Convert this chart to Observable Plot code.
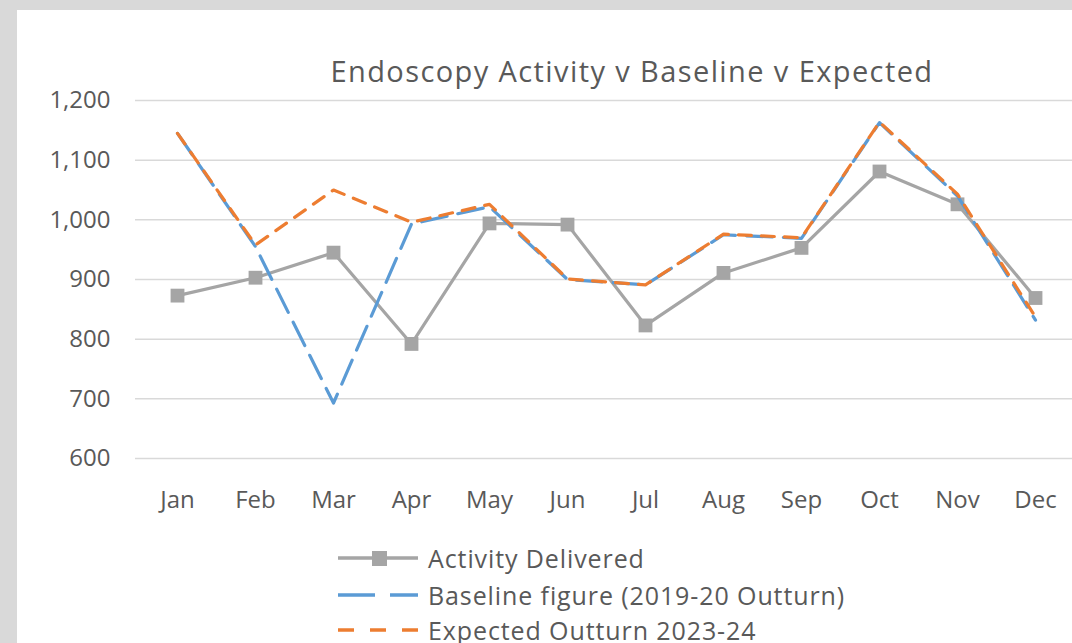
<!DOCTYPE html>
<html>
<head>
<meta charset="utf-8">
<script src="https://cdn.jsdelivr.net/npm/d3@7"></script>
<script src="https://cdn.jsdelivr.net/npm/@observablehq/plot@0.6"></script>
<style>
  html, body { margin: 0; padding: 0; }
  body { width: 1072px; height: 643px; overflow: hidden; background: #d9d9d9; position: relative; font-family: "Open Sans", sans-serif; color: #595959; }
  #panel { position: absolute; left: 17px; top: 10px; width: 1100px; height: 700px; background: #ffffff; }
  #title { position: absolute; left: 282px; width: 700px; top: 56px; text-align: center; font-size: 29px; line-height: 29px; white-space: nowrap; letter-spacing: 1.4px; }
  #chart { position: absolute; left: 0; top: 90px; width: 1100px; }
  #chart svg { max-width: none !important; }
  .row { position: absolute; left: 338px; height: 36px; line-height: 36px; display: flex; align-items: center; font-size: 25px; white-space: nowrap; letter-spacing: 0.9px; }
  .row svg { margin-right: 10px; }
</style>
</head>
<body>
<div id="panel"></div>
<div id="title">Endoscopy Activity v Baseline v Expected</div>
<div id="chart"></div>
<div id="legend"></div>
<script>
const months = ["Jan","Feb","Mar","Apr","May","Jun","Jul","Aug","Sep","Oct","Nov","Dec"];
const activityDelivered = [873, 903, 945, 792, 994, 992, 823, 911, 953, 1081, 1026, 869];
const baselineFigure   = [1145, 955, 693, 993, 1022, 900, 891, 975, 969, 1163, 1040, 832];
const expectedOutturn  = [1145, 958, 1050, 996, 1026, 901, 891, 976, 970, 1164, 1043, 837];
const yTicks = [600, 700, 800, 900, 1000, 1100, 1200];
const seriesNames = ["Activity Delivered", "Baseline figure (2019-20 Outturn)", "Expected Outturn 2023-24"];

const act = months.map((m, i) => ({month: m, value: activityDelivered[i]}));
const base = months.map((m, i) => ({month: m, value: baselineFigure[i]}));
const exp = months.map((m, i) => ({month: m, value: expectedOutturn[i]}));

const gray = "#a5a5a5", blue = "#5b9bd5", orange = "#ed7d31";

const chart = Plot.plot({
  width: 1100,
  height: 450,
  marginLeft: 135,
  marginRight: 23,
  marginTop: 10,
  marginBottom: 82,
  style: {fontFamily: "'Open Sans', sans-serif", fontSize: "24px", color: "#595959", background: "transparent", overflow: "visible", maxWidth: "none"},
  x: {type: "point", domain: months, padding: 0.5, label: null},
  y: {domain: [600, 1200], label: null},
  marks: [
    Plot.gridY(yTicks, {stroke: "#d9d9d9", strokeOpacity: 1, strokeWidth: 1.5}),
    Plot.axisY(yTicks, {tickSize: 0, tickPadding: 25, tickFormat: d3.format(","), fill: "#595959", label: null, letterSpacing: "1.8px"}),
    Plot.axisX({tickSize: 0, tickPadding: 32, fill: "#595959", label: null, letterSpacing: "2.5px"}),
    Plot.line(act, {x: "month", y: "value", stroke: gray, strokeWidth: 3.2}),
    Plot.dot(act, {x: "month", y: "value", symbol: "square", r: 7.8, fill: gray}),
    Plot.line(base, {x: "month", y: "value", stroke: blue, strokeWidth: 3.2, strokeDasharray: "26 11"}),
    Plot.line(exp, {x: "month", y: "value", stroke: orange, strokeWidth: 3.2, strokeDasharray: "13 10"})
  ]
});
document.getElementById("chart").appendChild(chart);

// Legend
const legend = document.getElementById("legend");
const tops = [540, 577, 612];
const swatches = [
  `<svg width="80" height="20"><line x1="0" y1="10" x2="80" y2="10" stroke="${gray}" stroke-width="3.5"/><rect x="34" y="3" width="15" height="15" fill="${gray}"/></svg>`,
  `<svg width="80" height="20"><line x1="0" y1="10" x2="80" y2="10" stroke="${blue}" stroke-width="3.5" stroke-dasharray="37 15"/></svg>`,
  `<svg width="80" height="20"><line x1="0" y1="10" x2="80" y2="10" stroke="${orange}" stroke-width="3.5" stroke-dasharray="16 16"/></svg>`
];
seriesNames.forEach((name, i) => {
  const row = document.createElement("div");
  row.className = "row";
  row.style.top = tops[i] + "px";
  row.innerHTML = swatches[i] + `<span>${name}</span>`;
  legend.appendChild(row);
});
</script>
</body>
</html>
